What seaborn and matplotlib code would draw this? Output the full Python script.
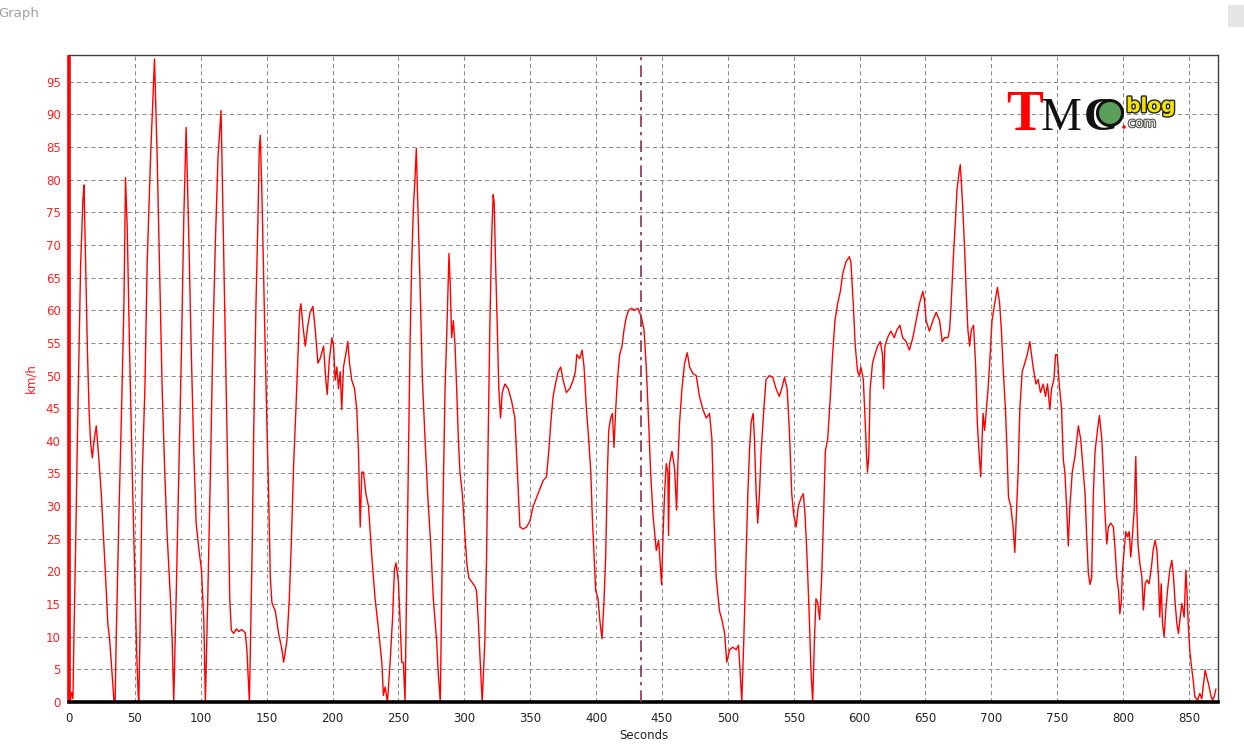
import matplotlib
matplotlib.use("Agg")
import matplotlib.pyplot as plt
import matplotlib.patheffects as pe
from matplotlib.patches import Ellipse, Rectangle
from matplotlib.ticker import MultipleLocator
import seaborn as sns

# speed trace (seconds, km/h)
time_s = [
    0, 1, 2, 3, 3.8, 5, 6.3, 7.6, 8.8, 10.6, 11.4, 12.6, 13.9, 15.2, 16.4, 17.7, 19, 20.7, 22.7, 24.5,
    26.5, 27.8, 29.5, 30.8, 32.3, 34.1, 35, 35.8, 37.9, 39.9, 41.7, 42.9, 44.2, 45.9, 48, 50, 51.3, 52.5, 53,
    53.8, 55.6, 57.6, 59.3, 61.9, 64.9, 66.9, 68.7, 70.7, 72.7, 74.5, 77, 78.3, 79.5,
    81.3, 83.3, 85.4, 87.1, 88.9, 91, 92.7, 94.7, 96.5, 98.5, 100.5, 102.3, 103.5,
    105.3, 107.3, 109.1, 111.1, 113.1, 115.4, 116.9, 118.7, 120.5, 122, 123.2, 125, 127, 129, 131, 133.8, 135, 136.9,
    138.9, 140.2, 141.9, 143.4, 144.4, 145.2, 146.5, 148.5, 150.3, 151.5, 152.8, 154, 156.6, 159, 161.6, 162.9,
    165.4, 167.2, 168.7, 170.5, 172.2, 173.7, 175, 176,
    177.5, 179.3, 181.3, 183, 185.1, 186.9, 188.9, 190.6, 193.2, 194.9, 196, 197.5, 199.5, 200.8, 202, 203.3,
    204.5, 205.8, 207, 208.3, 210, 211.6, 212.9, 214.6, 216.7, 218.4, 219.7, 221, 222.2, 223.5, 225.3, 227.3,
    229.8, 232.3, 234.8, 237.4, 238.6, 239.9, 241.7, 243.7, 245.5, 247, 248.2, 250, 251.5, 252.5, 253.8, 255,
    256.3, 257.6, 258.8, 260.1, 261.4, 262.6, 263.6, 264.6, 266.4, 268.2, 270.2, 272.2, 274.5, 276.5, 279, 280.3, 281.8,
    282.8, 284, 285.4, 286.6, 288.4, 289.4, 290.4, 291.7, 293, 294.2, 295.5, 296.7, 298.5, 300.5, 302, 303.5,
    305.6, 308.1, 309.3, 310.6, 312.1, 313.6,
    315.6, 316.9, 318.2, 319.4, 320.7, 321.9, 322.7, 323.7, 325, 326.2, 327.5, 328.8, 330.8, 333.3, 335.9, 338.4,
    339.6, 340.9, 342.2, 344.7, 347.2, 349.8, 352.3, 354.8, 357.3, 359.8, 362.4, 364.1, 365.7, 367.4, 369.2, 371.2,
    373.2, 375, 377.5, 380, 382.6, 384.3, 385.4, 387.6, 389.4, 390.9, 392.7, 394.4, 396, 397.2, 398.5, 399.7,
    401.5, 402.8, 404.5, 406.1, 407.3, 408.6, 409.6, 411.1, 412.4, 413.6, 414.9, 416.2, 417.9, 419.7, 421.2, 423,
    424.7, 426.8, 429.3, 431.8, 434.3, 436.4, 438.1, 439.9, 441.4, 443.2, 444.4, 445.7, 447.5, 449, 449.7, 450.8,
    452, 453.3, 454.5, 455, 455.8, 457.6, 459.6, 461.1, 462.1, 463.4, 465.2, 467.2, 469.2, 471, 473.5, 476,
    478.5, 481.1, 483.6, 486.1, 487.9, 489.4, 491.2, 493.7, 495.5, 497.5, 499.2, 501.3, 503.8, 506.3, 508.1, 509.3, 510.6,
    512.1, 513.9, 515.2, 516.4, 517.7, 519.2, 520.2, 521.5, 522.7, 524, 525.3, 527.3, 529, 531.6, 534.1, 536.6,
    539.1, 540.9, 543, 545, 546.7, 548.5, 550, 551.8, 553.5, 555.6, 557.3, 558.6, 560.1, 561.9, 563.1, 564.4,
    565.7, 566.9, 568.2, 569.7, 571.2, 572.7, 574, 575.8, 577.8, 579.5, 581.3, 583.3, 585.4, 587.1, 589.6, 592.2,
    593.4, 595.2, 596.7, 598.5, 599.7, 601, 602.8, 604, 605.3, 606, 607, 608, 609.8, 611.6, 613.6, 615.7,
    617.4, 618.2, 619.2, 621.2, 623.7, 626.3, 628.3, 630.6, 632.7, 635.3, 637.8, 640.4, 642.9, 645.4, 648, 649.2,
    650.5, 653, 655.6, 658.1, 660.7, 662.7, 664.5, 667, 668.3, 669.5, 671.3, 672.8, 673.9, 675.4, 676.4, 677.4,
    678.4, 679.7, 681, 682.2, 683.5, 684.8, 686.5, 688.1, 689.3, 690.6, 691.9, 693.7, 694.9, 696.2, 697.5, 698.7,
    700.5, 702.5, 704.6, 706.3, 707.6, 708.9, 710.7, 711.9, 713, 714.7, 716.5, 717.8, 719, 720.3, 721.6, 723.4,
    725.4, 727.2, 729.2, 730.5, 731.7, 733.8, 735.5, 737.3, 739.3, 741.1, 742.6, 744.4, 745.7, 747.5, 748.7, 750,
    751.5, 753.3, 754.6, 755.8, 757.1, 758.4, 759.6, 761.4, 763.5, 766, 767.8, 769.8, 771.1, 772.3, 773.6, 774.9,
    776.1, 777.4, 778.7, 780.5, 782, 783.8, 785, 786.3, 787.6, 788.8, 790.6, 792.6, 793.9, 795.2, 796.5, 797.5,
    798.5, 799.5, 800.8, 802, 803.3, 804.6, 805.8, 807, 808.4, 809.6, 810.4, 811.4, 812.7, 814.2, 815.4, 816.7,
    818, 819.7, 821.5, 822.8, 824.3, 825.6, 826.8, 827.8, 828.9, 829.9, 831.1, 832.4, 833.7, 835.4, 837, 838.2,
    839.5, 840.8, 842, 843.3, 844.6, 846.3, 847.6, 848.4, 849.4, 850.6, 851.9, 853.2, 854.4, 856.5, 858.2, 859.7,
    861, 862.3, 863.5, 864.8, 866.6, 867.8, 869.1, 870.4,
]
speed_kmh = [
    1, 0.3, 1.5, 0.5, 10.6, 23.5, 39.7, 53.5, 66.8, 77, 79.2, 67, 54.5, 44.8, 39.7, 37.4, 40, 42.3, 37.1, 31.9,
    24.2, 19, 11.9, 9.7, 5.5, 0.3, 0, 9.4, 28.7, 44.8, 61, 80.3, 72.6, 54.5, 35.2, 19, 8, 1, 0,
    9.4, 35, 48, 67, 83.5, 98.5, 83.5, 67, 48, 35, 25.5, 15.8, 9.4, 0,
    15.8, 35, 54.5, 73.9, 88, 70.6, 54.5, 38.4, 27.4, 23.5, 20.3, 12.6, 0,
    15.8, 35, 54.5, 70.6, 83.5, 90.6, 73.9, 54.5, 35, 15.8, 11, 10.5, 11.2, 10.8, 11.1, 10.6, 8, 0,
    22, 41.6, 61, 73.9, 84.8, 86.8, 77, 57.7, 41.6, 32, 19, 15.2, 13.9, 10.6, 8, 6.1,
    9.4, 15.8, 24.2, 36.5, 44.8, 52.6, 59.7, 61,
    57.7, 54.5, 57.7, 59.7, 60.6, 57, 51.9, 52.6, 54.5, 49.3, 47.1, 52.3, 55.8, 54.5, 49.3, 51.3,
    48, 50.6, 44.8, 51.3, 53.2, 55.2, 51.9, 49.3, 48, 44.8, 38.4, 26.8, 35.2, 35.2, 31.9, 30,
    22.3, 15.8, 11.3, 6.1, 1, 2.3, 0, 6.1, 12.6, 20.3, 21.3, 18.4, 11.3, 6.1, 6, 0,
    19, 38.4, 54.5, 67.4, 75.8, 80.3, 84.8, 77.1, 64.2, 49.4, 40.3, 31.9, 24.2, 15.8, 9.4, 4.2, 0,
    15.8, 31.9, 48, 55.8, 68.7, 63.5, 55.8, 58.4, 54.5, 48, 40.3, 35.2, 31.9, 25.5, 21, 19,
    18.4, 17.7, 17, 12.6, 6.1, 0,
    9.4, 22.3, 41.6, 57.7, 70.6, 77.7, 76.5, 67.4, 57.7, 48, 43.5, 47.4, 48.7, 48, 46.1, 43.5,
    38.4, 32.6, 26.8, 26.5, 26.8, 27.7, 30, 31.3, 32.6, 33.9, 34.5, 38.4, 42.9, 46.8, 48.7, 50.6,
    51.3, 49.3, 47.4, 48, 49.3, 50.6, 53.2, 52.6, 53.9, 51.3, 44.8, 40.3, 35.2, 28.1, 22.3, 17.1,
    15.8, 12.6, 9.7, 15.8, 22.3, 35.2, 41.6, 43.5, 44.2, 39, 44.8, 49.3, 53.2, 54.5, 57, 59,
    60, 60.3, 60, 60.3, 59, 57, 51.3, 42.9, 35.2, 28.7, 26.1, 23.2, 24.8, 20.3, 18, 25.5,
    31.9, 36.5, 35.2, 25.5, 36.5, 38.4, 35.8, 29.4, 36.5, 42.9, 48, 51.9, 53.5, 51.3, 50.3, 50,
    46.8, 44.8, 43.5, 44.2, 40.3, 28.7, 19, 13.9, 12.6, 10.6, 6.1, 8, 8.4, 8, 8.7, 4.8, 0,
    9.4, 22.3, 31.9, 38.4, 42.9, 44.2, 40.3, 31.9, 27.4, 31.9, 38.4, 44.8, 49.4, 50, 49.7, 48,
    46.8, 48, 49.7, 48, 41.6, 31.9, 28.7, 26.8, 30, 31.3, 31.9, 28.7, 22.3, 12.6, 4.8, 0,
    9.4, 15.8, 15.2, 12.6, 19, 28.7, 38.4, 40.3, 46.8, 53.2, 58.4, 61, 62.9, 65.5, 67.4, 68.2,
    67.4, 61, 54.5, 50.6, 50, 51.3, 49.4, 44.2, 37.7, 35.2, 37.7, 48, 51.9, 53.2, 54.5, 55.2,
    53.2, 48, 54.5, 55.8, 56.8, 55.8, 57, 57.7, 55.8, 55.2, 53.9, 55.8, 58.4, 61, 62.9, 61.6,
    58.4, 56.8, 58.4, 59.7, 58.4, 55.2, 55.8, 55.8, 57, 61, 68.7, 73.9, 78.4, 81, 82.3, 79,
    75.2, 69.4, 62.3, 57, 54.5, 57, 57.7, 51.3, 42.9, 38.4, 34.5, 44.2, 41.6, 44.8, 48, 51.9,
    58.4, 61, 63.5, 61, 57, 51.3, 44.8, 38.4, 31.3, 30, 26.8, 22.9, 28.7, 35.2, 44.8, 50.6,
    51.9, 53.2, 55.2, 53.2, 51.3, 48.7, 49.4, 47.4, 48.7, 46.8, 48.7, 44.8, 48, 49.4, 53.2, 53.2,
    48.7, 44.8, 37.1, 35.2, 30, 23.9, 30, 35.2, 37.7, 42.3, 40.3, 35.2, 31.9, 25.5, 19.7, 18,
    19, 31.9, 38.4, 41.6, 43.9, 40.3, 35.2, 28.7, 24.2, 26.8, 27.4, 26.8, 23.5, 19, 17.1, 13.5,
    15.1, 20.2, 23.3, 26.1, 25.3, 26.1, 22.2, 25.3, 29.4, 37.6, 29.4, 23.8, 21.2, 19.2, 14.1, 18.1,
    18.7, 18.1, 20.7, 23.3, 24.8, 23.3, 19.2, 13, 18.1, 12, 10, 14.1, 17.1, 20.2, 21.7, 19.2,
    15.1, 12, 10.5, 13, 15.1, 13, 20.2, 17.1, 12, 7.9, 5.4, 3.3, 0.8, 0.3, 1.3, 0.5,
    2.8, 4.9, 3.8, 2.8, 1, 0.3, 0.8, 2,
]
x_ticks = list(range(0, 851, 50))
y_ticks = list(range(0, 96, 5))
cursor_s = 434

sns.set_style("white")
plt.rcParams["font.family"] = ["DejaVu Sans"]

W, H = 1244, 748
fig = plt.figure(figsize=(W / 100, H / 100), dpi=100)
ax = fig.add_axes([69 / W, 1 - 702 / H, (1218 - 69) / W, (702 - 55) / H])

sns.lineplot(x=time_s, y=speed_kmh, ax=ax, color="#ff0000", linewidth=1.0,
             sort=False, estimator=None)

ax.axvline(cursor_s, color="#8b3050", linewidth=1.2, linestyle=(0, (7, 3, 2, 3)), zorder=3)

ax.set_xlim(0, 872)
ax.set_ylim(0, 99.1)
ax.set_xticks(x_ticks)
ax.set_yticks(y_ticks)
ax.xaxis.set_minor_locator(MultipleLocator(10))
ax.yaxis.set_minor_locator(MultipleLocator(1))
ax.grid(True, which="major", color="#8c8c8c", linestyle=(0, (4, 3)), linewidth=0.75)
ax.set_axisbelow(True)

ax.tick_params(axis="x", which="major", length=4, width=1, color="#333333",
               labelsize=8.5, labelcolor="#222222", direction="out", pad=3)
ax.tick_params(axis="x", which="minor", length=2.5, width=0.8, color="#333333", direction="out")
ax.tick_params(axis="y", which="major", length=3, width=1, color="#ff0000",
               labelsize=8.5, labelcolor="#ff2020", direction="out", pad=3)
ax.tick_params(axis="y", which="minor", length=1.5, width=0.8, color="#ff0000", direction="out")

ax.set_xlabel("Seconds", fontsize=8.5, color="#222222", labelpad=3)
ax.set_ylabel("km/h", fontsize=8.5, color="#ff2020", labelpad=6)

for side in ["top", "right"]:
    ax.spines[side].set_color("#404040")
    ax.spines[side].set_linewidth(1.0)
ax.spines["left"].set_color("#ff0000")
ax.spines["left"].set_linewidth(2.6)
ax.spines["left"].set_capstyle("butt")
ax.spines["bottom"].set_color("#000000")
ax.spines["bottom"].set_linewidth(2.6)

# window title and corner box
fig.text(-2 / W, 1 - 14 / H, "Graph", fontsize=9.5, color="#a0a0a0", va="center", ha="left")
fig.patches.append(Rectangle((1228 / W, 1 - 27 / H), 16 / W, 22 / H, transform=fig.transFigure,
                             facecolor="#e6e6e6", edgecolor="none"))

# TMC blog logo
fig.text(1006 / W, 1 - 130 / H, "T", fontsize=40, color="#ff0000", family="Liberation Serif",
         weight="bold", va="baseline", ha="left")
fig.text(1041 / W, 1 - 130 / H, "M", fontsize=33, color="#111111", family="Liberation Serif",
         va="baseline", ha="left")
fig.text(1084 / W, 1 - 130 / H, "C", fontsize=34, color="#111111", family="Liberation Serif",
         weight="bold", va="baseline", ha="left")
r_logo = 12.5
fig.patches.append(Ellipse((1110 / W, 1 - 113 / H), 2 * r_logo / W, 2 * r_logo / H,
                           transform=fig.transFigure, facecolor="#5aa05a", edgecolor="#111111",
                           linewidth=2.2, zorder=5))
fig.patches.append(Ellipse((1124 / W, 1 - 127 / H), 3.6 / W, 3.6 / H, transform=fig.transFigure,
                           facecolor="#ff0000", edgecolor="none", zorder=5))
fig.text(1126 / W, 1 - 112 / H, "blog", fontsize=14.5, color="#f2e400", weight="bold",
         va="baseline", ha="left", path_effects=[pe.withStroke(linewidth=2.0, foreground="#222222")],
         zorder=6)
fig.text(1128 / W, 1 - 127 / H, "com", fontsize=9.5, color="#f4f4e4",
         va="baseline", ha="left", path_effects=[pe.withStroke(linewidth=1.6, foreground="#555555")],
         zorder=6)

fig.savefig("out.png", dpi=100)
